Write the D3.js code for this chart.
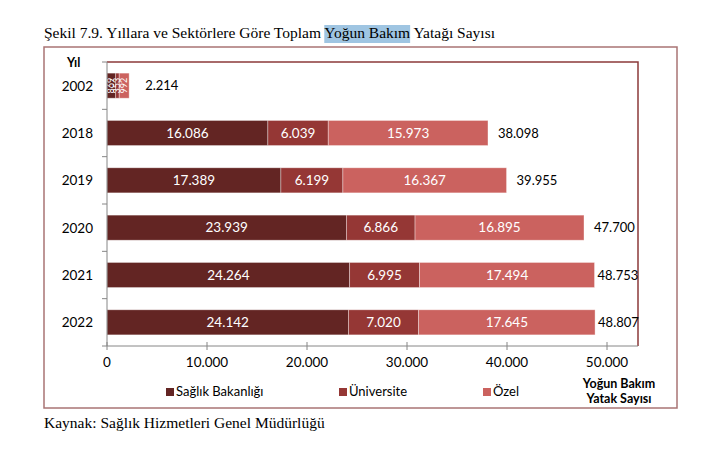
<!DOCTYPE html>
<html><head><meta charset="utf-8">
<script src="https://cdn.jsdelivr.net/npm/d3@7"></script>
<style>body{margin:0;background:#fff}svg{display:block}</style>
</head><body><svg id="c" width="712" height="450"></svg>
<script>
const years = ["2002","2018","2019","2020","2021","2022"];
const seriesNames = ["Sağlık Bakanlığı","Üniversite","Özel"];
const saglik = [869,16086,17389,23939,24264,24142];
const universite = [353,6039,6199,6866,6995,7020];
const ozel = [992,15973,16367,16895,17494,17645];
const totals = [2214,38098,39955,47700,48753,48807];
const xTicks = [0,10000,20000,30000,40000,50000];
const colors = ["#632523","#953735","#cb625f"];

const fmt = v => d3.format(",")(v).replace(/,/g,".");
const svg = d3.select("#c");
const font = "Lato, 'Open Sans', sans-serif";
const serif = "'Liberation Serif','Times New Roman',serif";

// title with highlight
const tA = "Şekil 7.9. Yıllara ve Sektörlere Göre Toplam ", tB = "Yoğun Bakım", tC = " Yatağı Sayısı";
const title = svg.append("text").attr("x",44).attr("y",38).attr("font-family",serif).attr("font-size",15.5).attr("fill","#000");
const s1 = title.append("tspan").text(tA);
const s2 = title.append("tspan").text(tB);
title.append("tspan").text(tC);
const w1 = s1.node().getComputedTextLength(), w2 = s2.node().getComputedTextLength();
svg.insert("rect","text").attr("x",44+w1).attr("y",25).attr("width",w2).attr("height",18).attr("fill","#9fc5e2");

// outer frame
svg.append("rect").attr("x",44).attr("y",47).attr("width",633).attr("height",361).attr("fill","none").attr("stroke","#a97474").attr("stroke-width",1.5);

const L=107,R=638,T=62,B=346;
const x = d3.scaleLinear().domain([0,53100]).range([L,R]);
const y = d3.scaleBand().domain(years).range([T,B]).paddingInner(0.47).paddingOuter(0.235);

// plot frame
svg.append("path").attr("d",`M${L},${T}H${R}V${B}`).attr("fill","none").attr("stroke","#8c3a3a").attr("stroke-width",1.5);

const rows = years.map((yr,i)=>({yr, vals:[saglik[i],universite[i],ozel[i]], total:totals[i]}));
const segs = [];
rows.forEach(r=>{let acc=0; r.vals.forEach((v,k)=>{segs.push({yr:r.yr,k,v,x0:acc,x1:acc+v}); acc+=v;});});

svg.append("g").selectAll("rect").data(segs).join("rect")
  .attr("x",d=>x(d.x0)).attr("y",d=>y(d.yr)).attr("width",d=>x(d.x1)-x(d.x0)).attr("height",y.bandwidth())
  .attr("fill",d=>colors[d.k]).attr("stroke","rgba(255,255,255,0.45)").attr("stroke-width",0.8);

// segment labels
const lab = svg.append("g").attr("font-family",font).attr("fill","#fff");
segs.forEach(d=>{
  const cx = (x(d.x0)+x(d.x1))/2, cy = y(d.yr)+y.bandwidth()/2;
  if (d.yr==="2002") {
    lab.append("text").attr("transform",`translate(${cx+3},${cy}) rotate(-90)`).attr("text-anchor","middle")
      .attr("font-size",9).text(fmt(d.v));
  } else {
    lab.append("text").attr("x",cx).attr("y",cy+4.5).attr("text-anchor","middle").attr("font-size",13.5).text(fmt(d.v));
  }
});

// totals
const tg = svg.append("g").attr("font-family",font).attr("font-size",13).attr("fill","#000");
rows.forEach(r=>{
  const end = x(r.total);
  const t = tg.append("text").attr("y",y(r.yr)+y.bandwidth()/2+4.5).text(fmt(r.total));
  const w = t.node().getComputedTextLength();
  let px = Math.max(end + 3, Math.min(end + (r.yr==="2002"?16:10), R - 1 - w));
  t.attr("x",px);
});

// y axis
const ya = svg.append("g").attr("transform",`translate(${L},0)`);
ya.append("line").attr("y1",T).attr("y2",B).attr("stroke","#868686");
const bounds = d3.range(years.length+1).map(i=>T+i*(B-T)/years.length);
ya.selectAll("line.t").data(bounds).join("line").attr("class","t").attr("x1",-5).attr("x2",0).attr("y1",d=>d).attr("y2",d=>d).attr("stroke","#868686");
ya.selectAll("text").data(years).join("text").attr("x",-14).attr("y",d=>y(d)+y.bandwidth()/2+5)
  .attr("text-anchor","end").attr("font-family",font).attr("font-size",13.5).attr("fill","#000").text(d=>d);
svg.append("text").attr("x",67).attr("y",67).attr("font-family",font).attr("font-weight","bold").attr("font-size",12.5).text("Yıl");

// x axis
const xa = svg.append("g").attr("transform",`translate(0,${B})`);
xa.append("line").attr("x1",L).attr("x2",R).attr("stroke","#868686");
xa.selectAll("line.t").data(xTicks).join("line").attr("class","t").attr("x1",d=>x(d)).attr("x2",d=>x(d)).attr("y1",-4).attr("y2",4).attr("stroke","#868686");
xa.selectAll("text").data(xTicks).join("text").attr("x",d=>x(d)).attr("y",21).attr("text-anchor","middle")
  .attr("font-family",font).attr("font-size",13.5).attr("fill","#000").text(d=>fmt(d));
const xt = svg.append("text").attr("font-family",font).attr("font-weight","bold").attr("font-size",12.5).attr("text-anchor","middle");
xt.append("tspan").attr("x",619).attr("y",388).text("Yoğun Bakım");
xt.append("tspan").attr("x",619).attr("y",403).text("Yatak Sayısı");

// legend
const legX = [166,339,483];
const lg = svg.append("g").attr("font-family",font).attr("font-size",13);
seriesNames.forEach((n,i)=>{
  lg.append("rect").attr("x",legX[i]).attr("y",388).attr("width",8).attr("height",8).attr("fill",colors[i]);
  lg.append("text").attr("x",legX[i]+10).attr("y",396).attr("fill","#000").text(n);
});

// source
svg.append("text").attr("x",44).attr("y",428).attr("font-family",serif).attr("font-size",15.5).attr("fill","#000").text("Kaynak: Sağlık Hizmetleri Genel Müdürlüğü");
</script></body></html>
